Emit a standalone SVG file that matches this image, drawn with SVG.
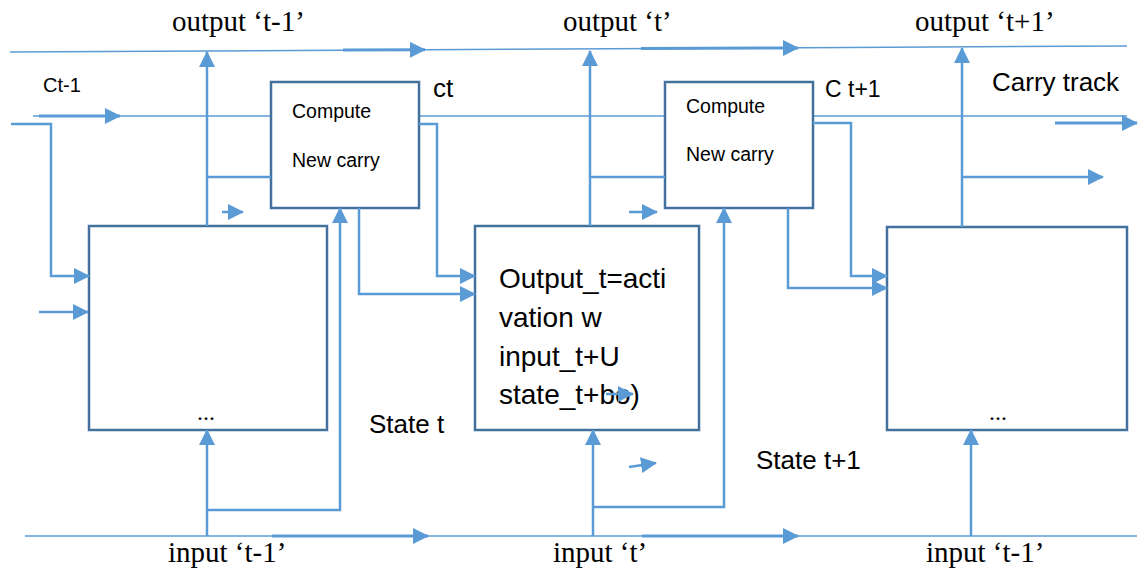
<svg xmlns="http://www.w3.org/2000/svg" width="1141" height="571" viewBox="0 0 1141 571">
<defs>
<marker id="ah" markerUnits="userSpaceOnUse" markerWidth="16" markerHeight="16" viewBox="0 0 16 16" refX="15" refY="8" orient="auto"><path d="M0,0 L16,8 L0,16 z" fill="#5B9BD5"/></marker>
<style>
.box{fill:#fff;stroke:#41719C;stroke-width:2.5}
.c{fill:none;stroke:#5B9BD5;stroke-width:2.5}
.thin{fill:none;stroke:#5B9BD5;stroke-width:1.5}
.thick{fill:none;stroke:#5B9BD5;stroke-width:3}
.ser{font-family:"Liberation Serif","Times New Roman",serif;font-size:29px;fill:#000}
.san{font-family:"Liberation Sans",Arial,sans-serif;fill:#000}
.sm{font-size:19.5px}
</style>
</defs>
<rect width="1141" height="571" fill="#fff"/>
<g id="tracks">
<line class="thin" x1="10" y1="52" x2="1127" y2="46"/>
<line class="thin" x1="33" y1="116" x2="271" y2="116"/>
<line class="thin" x1="419" y1="116" x2="665" y2="116"/>
<line class="thin" x1="813" y1="116" x2="1127" y2="116"/>
<line class="thin" x1="25" y1="536" x2="1137" y2="536"/>
</g>
<g id="cell1">
<rect class="box" x="89" y="226" width="238" height="204"/>
<text class="ser" x="197" y="420" style="font-size:24px">...</text>
</g>
<g id="compute1">
<rect class="box" x="271" y="82" width="148" height="126"/>
<text class="san sm" x="292" y="118">Compute</text>
<text class="san sm" x="292" y="167">New carry</text>
</g>
<g id="cell2">
<rect class="box" x="475" y="226" width="224" height="204"/>
<g class="san" style="font-size:28px">
<text x="499" y="288">Output_t=acti</text>
<text x="499" y="327">vation w</text>
<text x="499" y="366">input_t+U</text>
<text x="499" y="404">state_t+bo)</text>
</g>
</g>
<g id="compute2">
<rect class="box" x="665" y="82" width="148" height="126"/>
<text class="san sm" x="686" y="113">Compute</text>
<text class="san sm" x="686" y="161">New carry</text>
</g>
<g id="cell3">
<rect class="box" x="887" y="227" width="240" height="203"/>
<text class="ser" x="989" y="420" style="font-size:24px">...</text>
</g>
<g id="connectors">
<path class="thick" d="M343,50 L425,49.8" marker-end="url(#ah)"/>
<path class="thick" d="M641,48.5 L798,48" marker-end="url(#ah)"/>
<path class="thick" d="M39,116 H120" marker-end="url(#ah)"/>
<path class="thick" d="M1055,123 H1137" marker-end="url(#ah)"/>
<path class="thick" d="M272,536 H428" marker-end="url(#ah)"/>
<path class="thick" d="M642,536 H798" marker-end="url(#ah)"/>
<path class="c" d="M207,226 V52" marker-end="url(#ah)"/>
<path class="c" d="M207,177 H271"/>
<path class="c" d="M222,212 H243" marker-end="url(#ah)"/>
<path class="c" d="M11,124 H51 V276 H89" marker-end="url(#ah)"/>
<path class="c" d="M39,312 H88" marker-end="url(#ah)"/>
<path class="c" d="M359,208 V294 H475" marker-end="url(#ah)"/>
<path class="c" d="M419,124 H437 V276 H475" marker-end="url(#ah)"/>
<path class="c" d="M207,536 V430" marker-end="url(#ah)"/>
<path class="c" d="M207,510 H340 V208" marker-end="url(#ah)"/>
<path class="c" d="M590,226 V51" marker-end="url(#ah)"/>
<path class="c" d="M590,177 H665"/>
<path class="c" d="M629,212 H657" marker-end="url(#ah)"/>
<path class="c" d="M788,208 V288 H887" marker-end="url(#ah)"/>
<path class="c" d="M813,123 H851 V276 H887" marker-end="url(#ah)"/>
<path class="c" d="M593,536 V430" marker-end="url(#ah)"/>
<path class="c" d="M593,507 H724 V208" marker-end="url(#ah)"/>
<path class="c" d="M606,394 H633" marker-end="url(#ah)"/>
<path class="c" d="M629,467 L656,463" marker-end="url(#ah)"/>
<path class="c" d="M962,227 V48" marker-end="url(#ah)"/>
<path class="c" d="M962,177 H1103" marker-end="url(#ah)"/>
<path class="c" d="M971,536 V430" marker-end="url(#ah)"/>
</g>
<g id="labels">
<text class="ser" x="172" y="31">output ‘t-1’</text>
<text class="ser" x="563" y="31">output ‘t’</text>
<text class="ser" x="915" y="31">output ‘t+1’</text>
<text class="ser" x="168" y="562">input ‘t-1’</text>
<text class="ser" x="553" y="562">input ‘t’</text>
<text class="ser" x="926" y="562">input ‘t-1’</text>
<text class="san" x="43" y="92" style="font-size:20px">Ct-1</text>
<text class="san" x="433" y="97" style="font-size:26px">ct</text>
<text class="san" x="825" y="97" style="font-size:23px">C t+1</text>
<text class="san" x="992" y="91" style="font-size:26px">Carry track</text>
<text class="san" x="369" y="433" style="font-size:26px">State t</text>
<text class="san" x="756" y="469" style="font-size:26px">State t+1</text>
</g>
</svg>
